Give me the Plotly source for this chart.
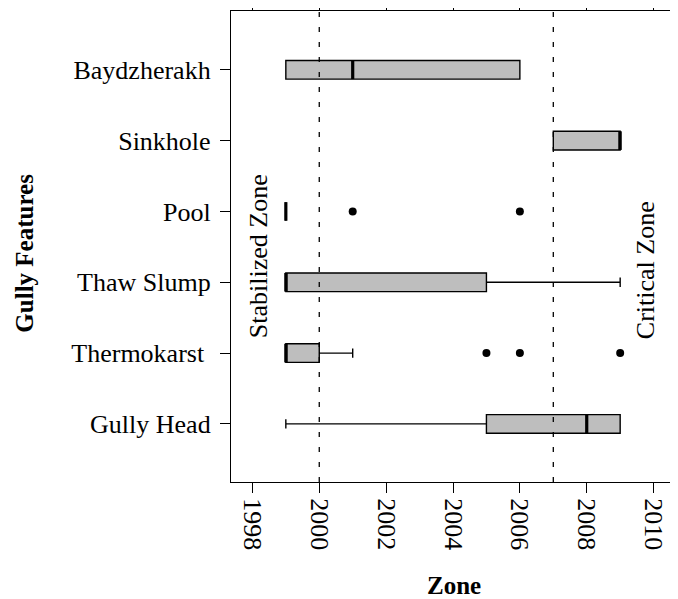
import plotly.graph_objects as go

categories = ["Gully Head", "Thermokarst\u00a0", "Thaw Slump", "Pool", "Sinkhole", "Baydzherakh"]
lower_fence = [1999, 1999, 1999, 1999, 2007, 1999]
q1_vals = [2005, 1999, 1999, 1999, 2007, 1999]
median_vals = [2008, 1999, 1999, 1999, 2009, 2001]
q3_vals = [2009, 2000, 2005, 1999, 2009, 2006]
upper_fence = [2009, 2001, 2009, 1999, 2009, 2006]
outlier_cat = ["Thermokarst\u00a0", "Thermokarst\u00a0", "Thermokarst\u00a0", "Pool", "Pool"]
outlier_vals = [2005, 2006, 2009, 2001, 2006]
zone_lines = [2000, 2007]
tick_years = [1998, 2000, 2002, 2004, 2006, 2008, 2010]

FONT = "Liberation Serif"
BOXW = 0.263
pos = list(range(1, len(categories) + 1))
cat_pos = {c: p for c, p in zip(categories, pos)}

fig = go.Figure()
fig.add_trace(go.Box(
    y=pos, q1=q1_vals, median=median_vals, q3=q3_vals,
    lowerfence=lower_fence, upperfence=upper_fence,
    orientation="h", boxpoints=False, width=BOXW, whiskerwidth=0.5,
    fillcolor="#BEBEBE", line=dict(color="black", width=1.4),
    showlegend=False, hoverinfo="skip",
))

mx, my = [], []
for p, m in zip(pos, median_vals):
    mx += [m, m, None]
    my += [p - BOXW / 2, p + BOXW / 2, None]
fig.add_trace(go.Scatter(x=mx, y=my, mode="lines",
                         line=dict(color="black", width=3.2),
                         showlegend=False, hoverinfo="skip"))

fig.add_trace(go.Scatter(x=outlier_vals, y=[cat_pos[c] for c in outlier_cat],
                         mode="markers",
                         marker=dict(color="black", size=8),
                         showlegend=False, hoverinfo="skip"))

for z in zone_lines:
    fig.add_vline(x=z, line=dict(color="black", width=1.3, dash="5px,10px"),
                  layer="above")

fig.add_annotation(x=1998.17, y=3.37, text="Stabilized Zone", textangle=-90,
                   xanchor="center", yanchor="middle",
                   showarrow=False, font=dict(family=FONT, size=26, color="black"))
fig.add_annotation(x=2009.74, y=3.17, text="Critical Zone", textangle=-90,
                   xanchor="center", yanchor="middle",
                   showarrow=False, font=dict(family=FONT, size=26, color="black"))

fig.add_annotation(x=0.5, y=-0.2187, xref="paper", yref="paper", text="<b>Zone</b>",
                   xanchor="center", yanchor="middle",
                   showarrow=False, font=dict(family=FONT, size=25, color="black"))
fig.add_annotation(x=-0.465, y=0.485, xref="paper", yref="paper",
                   text="<b>Gully Features</b>", textangle=-90,
                   xanchor="center", yanchor="middle",
                   showarrow=False, font=dict(family=FONT, size=25, color="black"))

fig.update_xaxes(range=[1997.36, 2010.67], tickvals=tick_years,
                 ticktext=[str(t) for t in tick_years], tickangle=90,
                 ticks="outside", ticklen=10, tickwidth=1.3, tickcolor="black",
                 showline=True, linecolor="black", linewidth=1.3, mirror="ticks",
                 showgrid=False, zeroline=False, automargin=False,
                 tickfont=dict(family=FONT, size=26, color="black"))
fig.update_yaxes(range=[0.18, 6.83], tickvals=pos, ticktext=categories,
                 ticks="outside", ticklen=10, tickwidth=1.3, tickcolor="black",
                 ticklabelstandoff=4,
                 showline=True, linecolor="black", linewidth=1.3, mirror=True,
                 showgrid=False, zeroline=False, automargin=False,
                 tickfont=dict(family=FONT, size=26, color="black"))

# page body adds an 8px offset; margins compensate so the plot frame lands
# at the reference's pixel position
fig.update_layout(width=678, height=599, autosize=False,
                  margin=dict(l=223, r=10, t=3, b=125),
                  paper_bgcolor="white", plot_bgcolor="white",
                  showlegend=False)

fig.write_html("out.html")
